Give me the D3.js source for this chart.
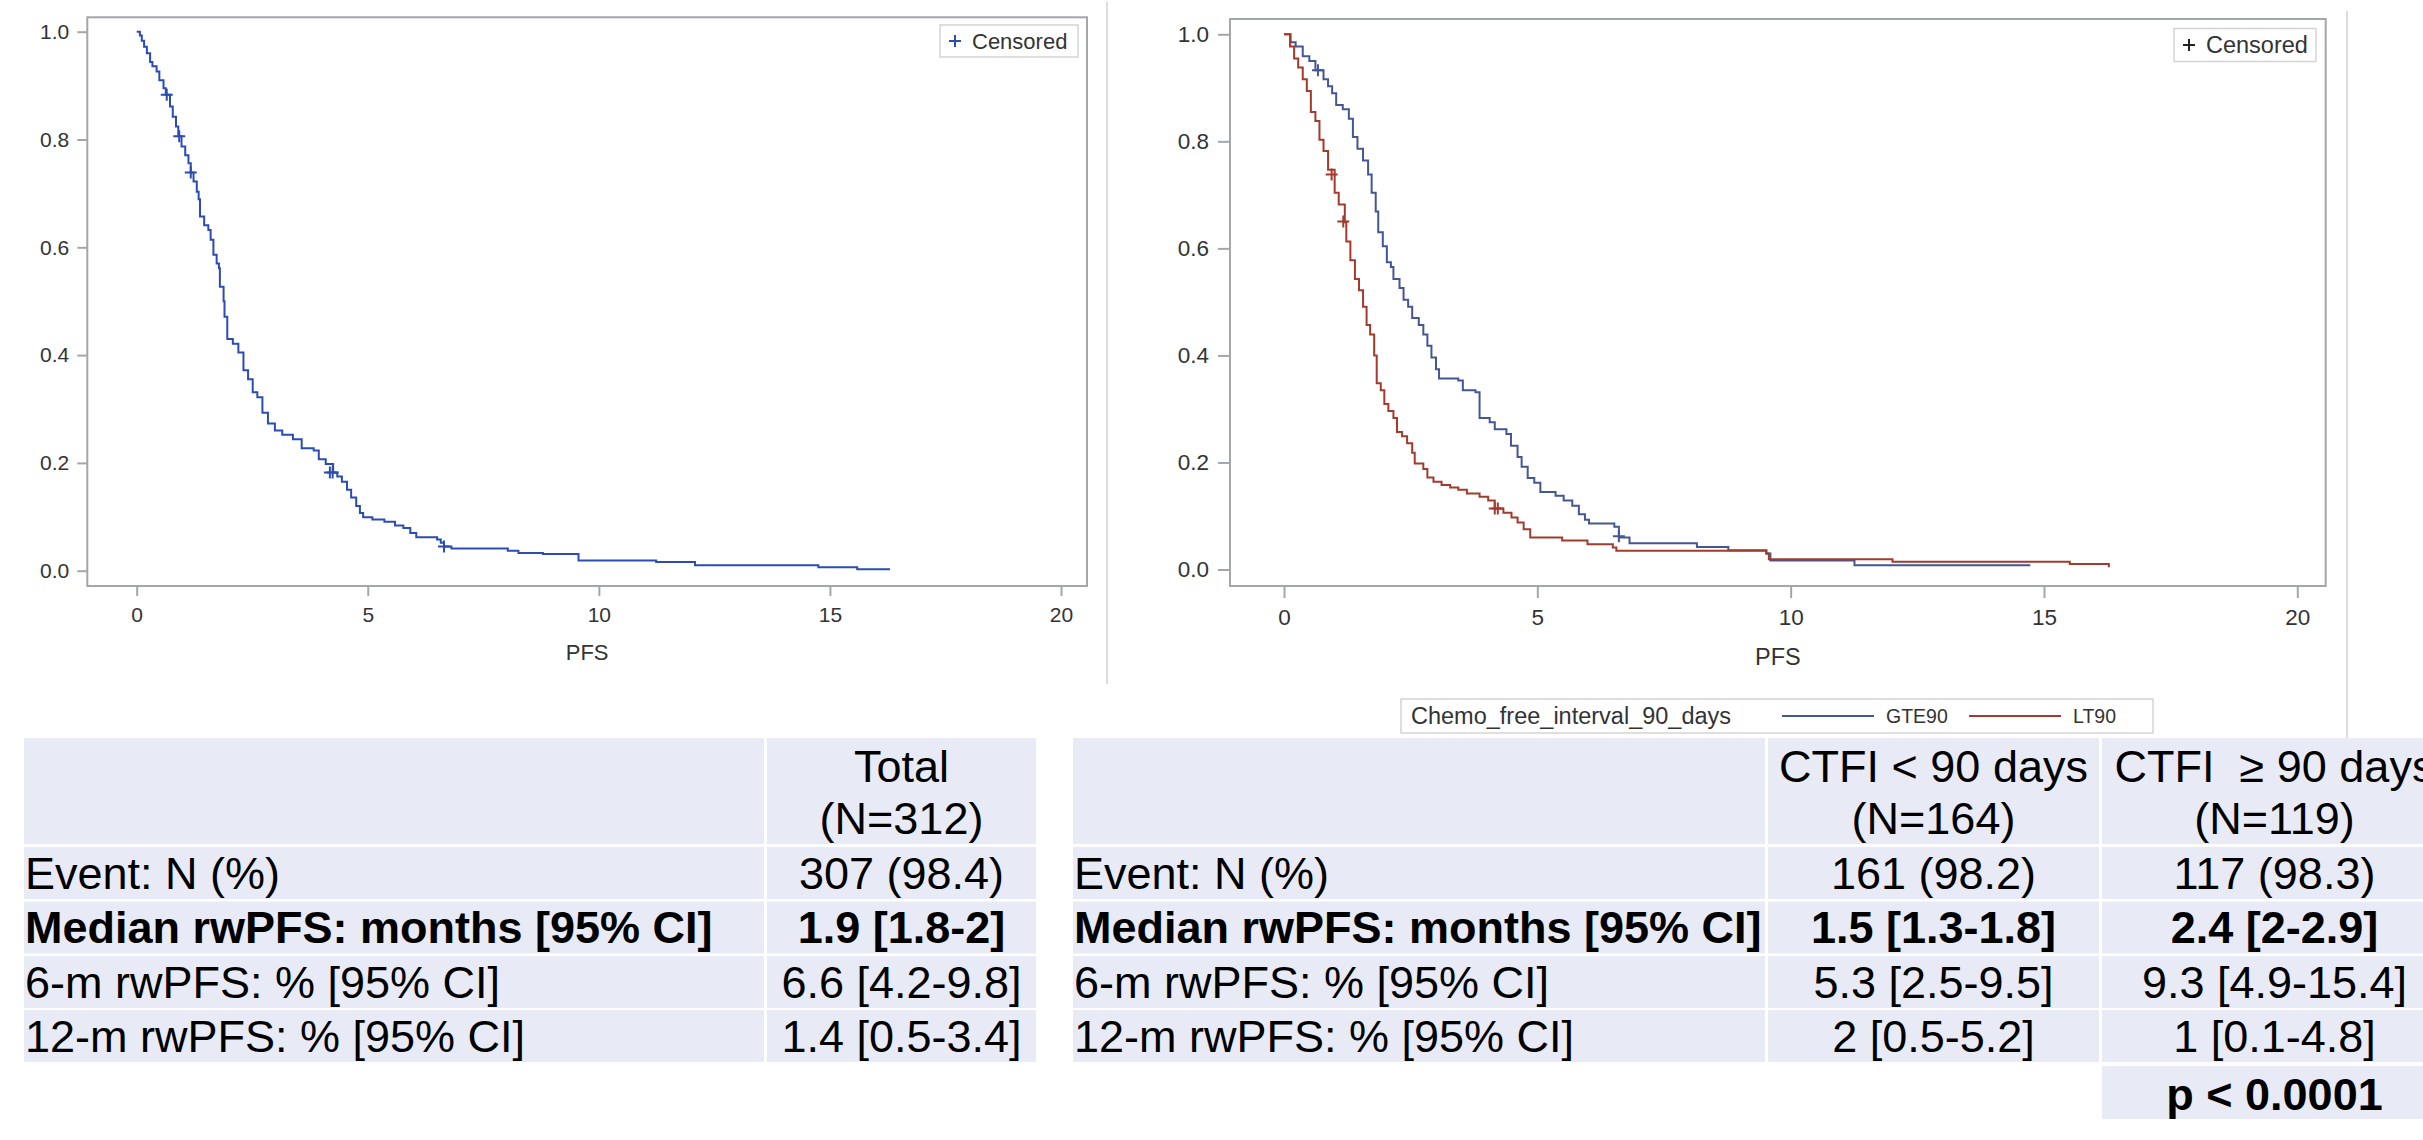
<!DOCTYPE html>
<html lang="en">
<head>
<meta charset="utf-8">
<title>rwPFS Kaplan-Meier</title>
<script src="https://d3js.org/d3.v7.min.js"></script>
<style>
    body { margin: 0; background: #fff; }
    svg text { font-family: "Liberation Sans", Arial, sans-serif; white-space: pre; }
</style>
</head>
<body>
<svg id="chart" width="2423" height="1140"></svg>
<script>
// ---- data ----
const xTicks = [0, 5, 10, 15, 20];
const yTicks = [0, 0.2, 0.4, 0.6, 0.8, 1.0];

// overall curve (N=312)
const allTime = [0,0.07,0.11,0.16,0.22,0.29,0.34,0.43,0.49,0.58,0.63,0.72,0.78,0.85,0.90,0.97,1.05,1.12,1.17,1.23,1.30,1.34,1.37,1.46,1.55,1.60,1.66,1.73,1.78,1.80,1.88,1.90,1.96,2.08,2.20,2.31,2.41,2.51,2.61,2.72,2.84,2.99,3.15,3.38,3.57,3.83,3.94,4.09,4.25,4.34,4.44,4.55,4.64,4.75,4.83,4.90,5.10,5.36,5.59,5.77,5.92,6.05,6.50,6.58,6.65,6.81,8.03,8.26,8.79,9.56,11.24,12.08,14.75,15.59,16.3];
const allSurv = [1.0,0.993,0.983,0.972,0.96,0.944,0.936,0.926,0.91,0.895,0.883,0.861,0.842,0.824,0.806,0.787,0.771,0.756,0.739,0.722,0.703,0.689,0.657,0.641,0.632,0.614,0.586,0.570,0.561,0.527,0.50,0.471,0.43,0.421,0.405,0.372,0.355,0.331,0.322,0.293,0.273,0.260,0.252,0.244,0.227,0.223,0.207,0.198,0.182,0.175,0.165,0.150,0.136,0.120,0.107,0.099,0.095,0.091,0.084,0.079,0.070,0.062,0.058,0.052,0.045,0.041,0.037,0.033,0.031,0.019,0.016,0.010,0.0066,0.0025,0.0025];
const allCensT = [0.65, 0.92, 1.17, 4.18, 4.24, 6.65];
const allCensS = [0.883, 0.806, 0.739, 0.182, 0.182, 0.045];

// CTFI >= 90 days (GTE90)
const gteTime = [0,0.13,0.23,0.37,0.5,0.62,0.78,0.87,0.95,1.03,1.16,1.28,1.36,1.45,1.56,1.66,1.73,1.81,1.86,1.95,2.03,2.11,2.16,2.28,2.36,2.45,2.53,2.66,2.75,2.83,2.91,3.0,3.06,3.44,3.53,3.78,3.86,4.06,4.16,4.39,4.48,4.61,4.69,4.81,4.94,5.06,5.36,5.52,5.69,5.82,5.94,6.02,6.52,6.61,6.82,8.15,8.77,9.52,9.60,11.26,14.73];
const gteSurv = [1.0,0.985,0.977,0.959,0.95,0.933,0.916,0.903,0.89,0.868,0.86,0.842,0.808,0.786,0.764,0.738,0.704,0.669,0.63,0.604,0.574,0.565,0.543,0.526,0.504,0.491,0.47,0.457,0.439,0.418,0.396,0.374,0.357,0.353,0.335,0.331,0.283,0.275,0.262,0.253,0.231,0.21,0.192,0.171,0.162,0.145,0.138,0.129,0.119,0.103,0.093,0.086,0.080,0.06,0.049,0.042,0.036,0.030,0.017,0.008,0.008];
const gteCensT = [0.67, 6.61];
const gteCensS = [0.933, 0.062];

// CTFI < 90 days (LT90)
const ltTime = [0,0.12,0.2,0.28,0.37,0.45,0.53,0.62,0.70,0.78,0.87,1.0,1.08,1.2,1.23,1.31,1.40,1.48,1.56,1.63,1.70,1.78,1.83,1.91,1.98,2.06,2.16,2.23,2.33,2.43,2.53,2.58,2.75,2.83,2.95,3.11,3.28,3.44,3.61,3.86,4.03,4.16,4.33,4.49,4.61,4.73,4.86,5.49,5.99,6.49,6.56,9.52,9.57,12.01,15.51,16.28];
const ltSurv = [1.0,0.977,0.955,0.938,0.916,0.894,0.855,0.838,0.803,0.782,0.747,0.704,0.682,0.649,0.613,0.578,0.543,0.522,0.491,0.457,0.439,0.40,0.348,0.335,0.309,0.296,0.283,0.257,0.249,0.236,0.218,0.198,0.188,0.172,0.164,0.158,0.153,0.149,0.142,0.136,0.129,0.114,0.106,0.097,0.088,0.075,0.06,0.054,0.047,0.041,0.035,0.030,0.019,0.0147,0.0104,0.004];
const ltCensT = [0.94, 1.17, 4.16, 4.22];
const ltCensS = [0.738, 0.650, 0.114, 0.114];

// tables
const rowLabels = ["Event: N (%)", "Median rwPFS: months [95% CI]", "6-m rwPFS: % [95% CI]", "12-m rwPFS: % [95% CI]"];
const boldRow = 1;
const totalHead = ["Total", "(N=312)"];
const totalVals = ["307 (98.4)", "1.9 [1.8-2]", "6.6 [4.2-9.8]", "1.4 [0.5-3.4]"];
const ltHead = ["CTFI < 90 days", "(N=164)"];
const ltVals = ["161 (98.2)", "1.5 [1.3-1.8]", "5.3 [2.5-9.5]", "2 [0.5-5.2]"];
const gteHead = ["CTFI  \u2265 90 days", "(N=119)"];
const gteVals = ["117 (98.3)", "2.4 [2-2.9]", "9.3 [4.9-15.4]", "1 [0.1-4.8]"];
const pText = "p < 0.0001";

const groupNames = ["GTE90", "LT90"];
const groupTitle = "Chemo_free_interval_90_days";

// ---- drawing ----
const svg = d3.select("#chart");
const axisCol = "#a3a6ab";
const txtCol = "#333";

function zip(t, s) { return t.map((d, i) => [d, s[i]]); }

function drawPlot(p) {
    let g = svg.append("g");
    let x = d3.scaleLinear().domain([0, 20]).range([p.x0, p.x20]);
    let y = d3.scaleLinear().domain([0, 1]).range([p.y0, p.y1]);

    // frame
    g.append("rect")
        .attr("x", p.left).attr("y", p.top)
        .attr("width", p.right - p.left).attr("height", p.bottom - p.top)
        .attr("fill", "none").attr("stroke", axisCol).attr("stroke-width", 2);

    let ya = g.append("g").attr("transform", "translate(" + p.left + ",0)")
        .call(d3.axisLeft(y).tickValues(yTicks).tickFormat(d3.format(".1f"))
            .tickSize(p.tick).tickPadding(p.pad));
    let xa = g.append("g").attr("transform", "translate(0," + p.bottom + ")")
        .call(d3.axisBottom(x).tickValues(xTicks).tickFormat(d3.format("d"))
            .tickSize(p.tick).tickPadding(p.pad));
    [ya, xa].forEach(a => {
        a.select(".domain").remove();
        a.selectAll("line").attr("stroke", axisCol).attr("stroke-width", 2);
        a.selectAll("text").attr("fill", txtCol).style("font-size", p.font + "px")
            .style("font-family", "'Liberation Sans', Arial, sans-serif");
    });
    xa.selectAll("text").attr("dy", null).attr("y", p.xLabY);

    g.append("text").text("PFS")
        .attr("x", (p.left + p.right) / 2).attr("y", p.titleY)
        .attr("text-anchor", "middle").attr("fill", txtCol)
        .style("font-size", (p.font + 1) + "px");

    let line = d3.line().x(d => x(d[0])).y(d => y(d[1])).curve(d3.curveStepAfter);
    p.series.forEach(s => {
        g.append("path").datum(zip(s.t, s.s))
            .attr("d", line).attr("fill", "none")
            .attr("stroke", s.color).attr("stroke-width", p.lw);
        g.selectAll(null).data(zip(s.ct, s.cs)).enter().append("path")
            .attr("d", d => {
                let cx = x(d[0]), cy = y(d[1]), h = p.cross;
                return "M" + (cx - h) + "," + cy + "h" + (2 * h) + "M" + cx + "," + (cy - h) + "v" + (2 * h);
            })
            .attr("stroke", s.color).attr("stroke-width", 2);
    });

    // censored legend
    let lg = p.leg;
    g.append("rect").attr("x", lg.x).attr("y", lg.y).attr("width", lg.w).attr("height", lg.h)
        .attr("fill", "#fff").attr("stroke", "#d4d4d4").attr("stroke-width", 1.5);
    let px = lg.x + 15, py = lg.y + lg.h / 2;
    g.append("path").attr("d", "M" + (px - 6) + "," + py + "h12M" + px + "," + (py - 6) + "v12")
        .attr("stroke", lg.plus).attr("stroke-width", 2);
    g.append("text").text("Censored").attr("x", px + 17).attr("y", py + p.font * 0.36)
        .attr("fill", txtCol).style("font-size", (p.font + 1) + "px");
}

drawPlot({
    left: 87.3, right: 1087, top: 17.3, bottom: 586,
    x0: 136.7, x20: 1061, y0: 570.7, y1: 31.7,
    tick: 10, pad: 8, font: 21, xLabY: 36, titleY: 660, lw: 2, cross: 6,
    leg: { x: 940, y: 25, w: 138, h: 32, plus: "#2b4cb3" },
    series: [{ t: allTime, s: allSurv, ct: allCensT, cs: allCensS, color: "#2b4cb3" }]
});

drawPlot({
    left: 1230, right: 2325.7, top: 19, bottom: 586,
    x0: 1284, x20: 2297.3, y0: 569.5, y1: 34.3,
    tick: 12, pad: 9, font: 22.5, xLabY: 39, titleY: 665, lw: 2, cross: 6,
    leg: { x: 2174, y: 28.5, w: 142, h: 33, plus: "#222" },
    series: [
        { t: gteTime, s: gteSurv, ct: gteCensT, cs: gteCensS, color: "#445694" },
        { t: ltTime, s: ltSurv, ct: ltCensT, cs: ltCensS, color: "#a23a2e" }
    ]
});

// separators
svg.append("line").attr("x1", 1107).attr("x2", 1107).attr("y1", 2).attr("y2", 684)
    .attr("stroke", "#dcdcdc").attr("stroke-width", 2);
svg.append("line").attr("x1", 2347).attr("x2", 2347).attr("y1", 11).attr("y2", 738)
    .attr("stroke", "#dcdcdc").attr("stroke-width", 2);

// group legend
let lgd = svg.append("g");
lgd.append("rect").attr("x", 1401).attr("y", 699).attr("width", 752).attr("height", 34)
    .attr("fill", "#fff").attr("stroke", "#d4d4d4").attr("stroke-width", 1.5);
lgd.append("text").text(groupTitle).attr("x", 1411).attr("y", 724)
    .attr("fill", txtCol).style("font-size", "23.5px");
let legCols = ["#445694", "#a23a2e"], legX = [1782, 1969];
groupNames.forEach((n, i) => {
    lgd.append("line").attr("x1", legX[i]).attr("x2", legX[i] + 92).attr("y1", 716).attr("y2", 716)
        .attr("stroke", legCols[i]).attr("stroke-width", 2);
    lgd.append("text").text(n).attr("x", legX[i] + 104).attr("y", 723)
        .attr("fill", txtCol).style("font-size", "19.5px");
});

// tables
const bg = "#e8ebf5";
const headTop = 738, headBot = 844;
const rowTops = [847, 901.5, 956, 1010], rowH = 52;
const baseOff = 41.5;
const fs = 45;

function drawTable(cols, heads, vals) {
    let t = svg.append("g");
    // first column
    t.append("rect").attr("x", cols[0][0]).attr("y", headTop)
        .attr("width", cols[0][1] - cols[0][0]).attr("height", headBot - headTop).attr("fill", bg);
    rowLabels.forEach((r, i) => {
        t.append("rect").attr("x", cols[0][0]).attr("y", rowTops[i])
            .attr("width", cols[0][1] - cols[0][0]).attr("height", rowH).attr("fill", bg);
        t.append("text").text(r).attr("x", cols[0][0] + 1).attr("y", rowTops[i] + baseOff)
            .attr("fill", "#000").style("font-size", fs + "px")
            .style("font-weight", i === boldRow ? "bold" : "normal");
    });
    heads.forEach((h, j) => {
        let c = cols[j + 1], cx = (c[0] + c[1]) / 2;
        t.append("rect").attr("x", c[0]).attr("y", headTop)
            .attr("width", c[1] - c[0]).attr("height", headBot - headTop).attr("fill", bg);
        h.forEach((line, k) => {
            t.append("text").text(line).attr("x", cx).attr("y", [781.5, 834][k])
                .attr("text-anchor", "middle").attr("fill", "#000").style("font-size", fs + "px");
        });
        vals[j].forEach((v, i) => {
            t.append("rect").attr("x", c[0]).attr("y", rowTops[i])
                .attr("width", c[1] - c[0]).attr("height", rowH).attr("fill", bg);
            t.append("text").text(v).attr("x", cx).attr("y", rowTops[i] + baseOff)
                .attr("text-anchor", "middle").attr("fill", "#000").style("font-size", fs + "px")
                .style("font-weight", i === boldRow ? "bold" : "normal");
        });
    });
    return t;
}

drawTable([[24, 764], [767, 1036]], [totalHead], [totalVals]);
let rt = drawTable([[1073, 1765], [1768, 2099], [2102, 2447]], [ltHead, gteHead], [ltVals, gteVals]);
rt.append("rect").attr("x", 2102).attr("y", 1066).attr("width", 345).attr("height", 53).attr("fill", bg);
rt.append("text").text(pText).attr("x", 2274.5).attr("y", 1110)
    .attr("text-anchor", "middle").attr("fill", "#000").style("font-size", fs + "px")
    .style("font-weight", "bold");
</script>
</body>
</html>
